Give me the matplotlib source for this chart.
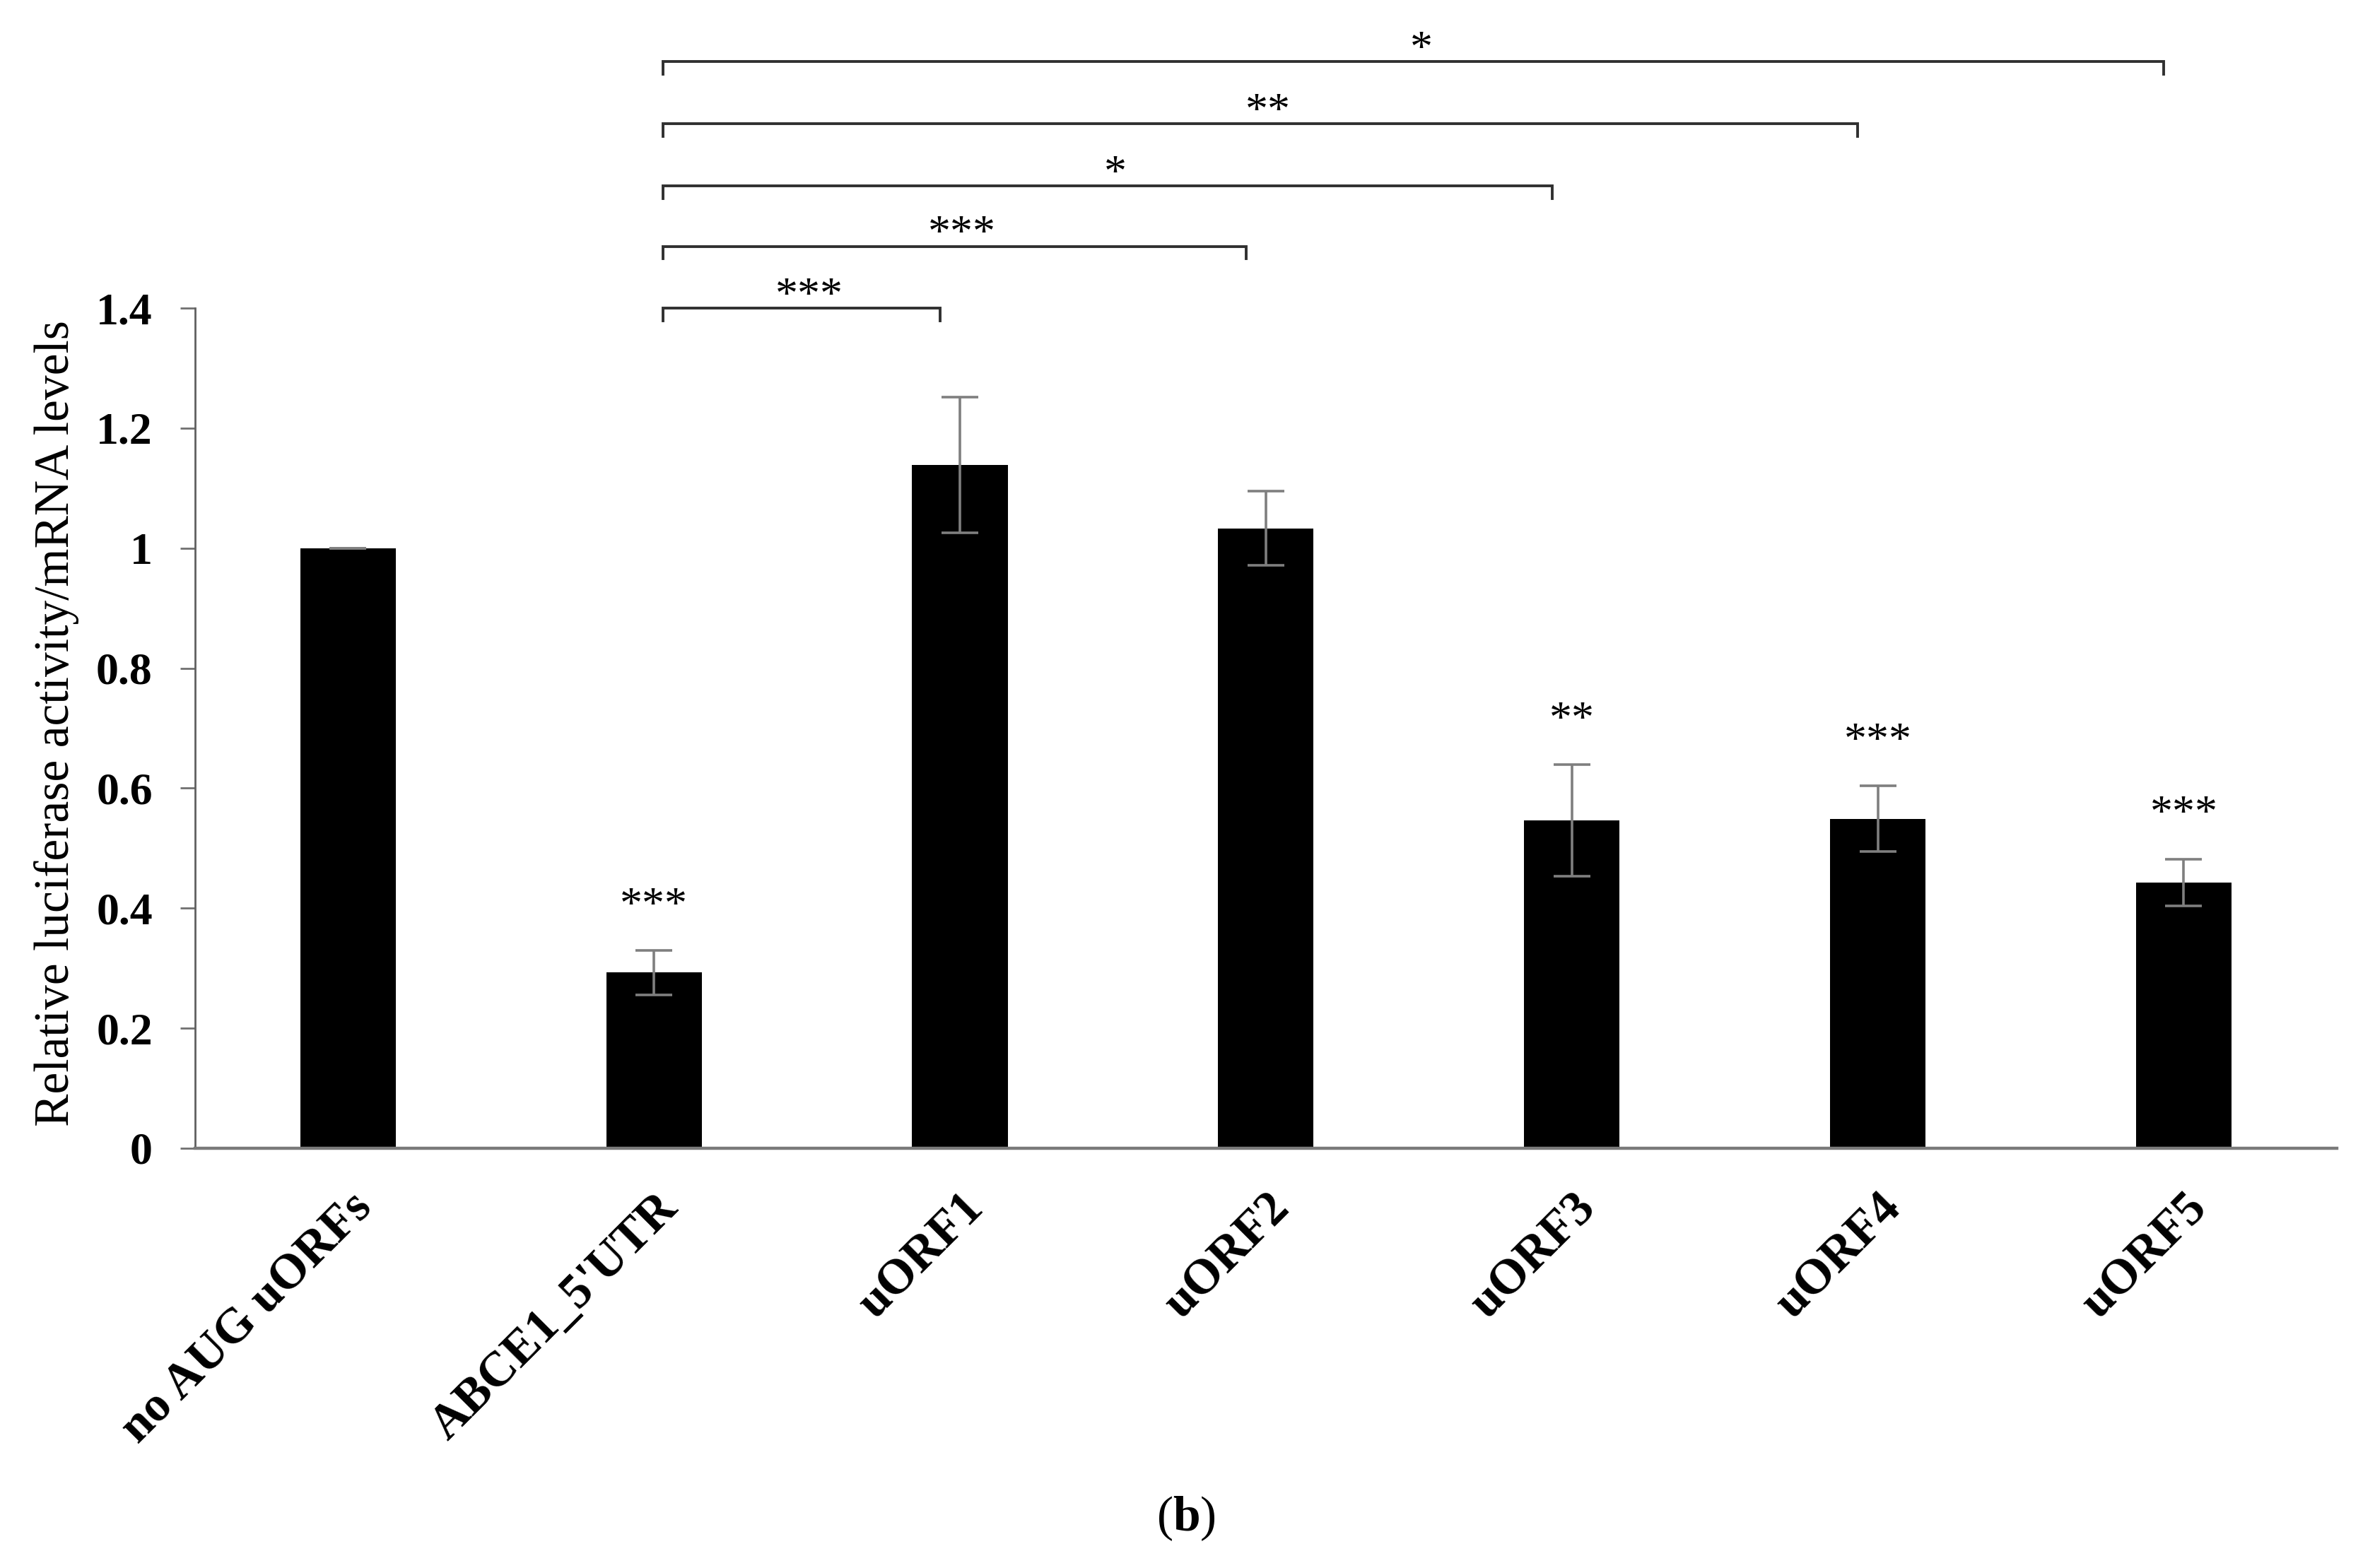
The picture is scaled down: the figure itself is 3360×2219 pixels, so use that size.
import matplotlib
matplotlib.use("Agg")
import matplotlib.pyplot as plt
from matplotlib.ticker import FuncFormatter
from matplotlib.transforms import ScaledTranslation

# values
labels = ['no AUG uORFs', "ABCE1_5'UTR", 'uORF1', 'uORF2', 'uORF3', 'uORF4', 'uORF5']
values = [1.0, 0.293, 1.139, 1.033, 0.546, 0.549, 0.443]
errors = [0.0, 0.037, 0.113, 0.062, 0.093, 0.055, 0.039]
bar_stars = ['', '***', '', '', '**', '***', '***']

# pairwise comparisons against ABCE1_5'UTR (index 1)
cmp_targets = [2, 3, 4, 5, 6]
cmp_heights = [1.40, 1.503, 1.604, 1.707, 1.811]
cmp_stars = ['***', '***', '*', '**', '*']

plt.rcParams['font.family'] = ['Liberation Serif', 'DejaVu Serif']
plt.rcParams['mathtext.fontset'] = 'custom'
plt.rcParams['mathtext.rm'] = 'Liberation Serif'
plt.rcParams['mathtext.bf'] = 'Liberation Serif:bold'

fig = plt.figure(figsize=(16.8, 11.095), dpi=200)
ax = fig.add_axes([0.0821, 0.2677, 0.9018, 0.5358])

x = list(range(len(labels)))
ax.bar(x, values, width=0.312, color='black', zorder=2)
ax.errorbar(x, values, yerr=errors, fmt='none', ecolor='#7f7f7f',
            elinewidth=1.3, capsize=9.5, capthick=1.3, zorder=3)

for xi, v, e, s in zip(x, values, errors, bar_stars):
    if s:
        ax.text(xi, v + e + 0.072, s, ha='center', va='center', fontsize=23)

# significance brackets, all starting at ABCE1_5'UTR
tick = 0.021
for tgt, h, s in zip(cmp_targets, cmp_heights, cmp_stars):
    x0, x1 = 1.03, tgt - 0.065
    ax.plot([x0, x0, x1, x1], [h - tick, h, h, h - tick], color='#303030',
            lw=1.4, clip_on=False, solid_joinstyle='miter')
    ax.text((x0 + x1) / 2 + 0.025, h + 0.018, s, ha='center', va='center',
            fontsize=23)

ax.set_xlim(-0.5, 6.5)
ax.set_ylim(0, 1.4)
ax.set_yticks([0, 0.2, 0.4, 0.6, 0.8, 1.0, 1.2, 1.4])
ax.yaxis.set_major_formatter(FuncFormatter(lambda v, p: f'{v:g}'))
ax.tick_params(axis='y', labelsize=23, length=7.6, width=1.0, color='#707070', pad=14)
for t in ax.get_yticklabels():
    t.set_fontweight('bold')
ax.set_xticks(x)
ax.set_xticklabels(labels, rotation=45, ha='right', va='center',
                   rotation_mode='anchor', fontsize=25, fontweight='bold')
ax.tick_params(axis='x', length=0, pad=27)
shift = ScaledTranslation(0.12, 0, fig.dpi_scale_trans)
for t in ax.get_xticklabels():
    t.set_transform(t.get_transform() + shift)

for side in ['top', 'right']:
    ax.spines[side].set_visible(False)
ax.spines['left'].set_color('#606060')
ax.spines['left'].set_linewidth(1.0)
ax.spines['bottom'].set_color('#7a7a7a')
ax.spines['bottom'].set_linewidth(1.6)

ax.set_ylabel('Relative luciferase activity/mRNA levels', fontsize=25)
ax.yaxis.set_label_coords(-0.054, 0.506)

fig.text(0.4994, 0.0316, r'($\mathbf{b}$)', ha='center', va='center', fontsize=25)

fig.savefig('out.png', dpi=200, facecolor='white')
